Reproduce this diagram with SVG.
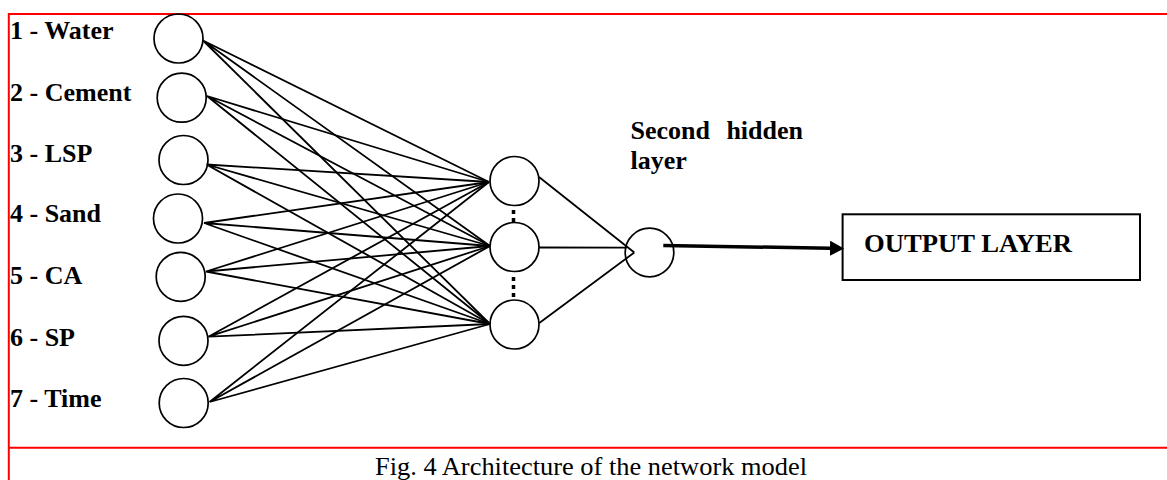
<svg xmlns="http://www.w3.org/2000/svg" width="1167" height="480" viewBox="0 0 1167 480">
<style>
.frame{stroke:#ff0000;stroke-width:2;fill:none}
.node{fill:none;stroke:#000;stroke-width:1.7}
.edge{stroke:#000;stroke-width:1.8;fill:none}
.lbl{font-family:"Liberation Serif","Times New Roman",serif;font-weight:bold;font-size:26px;fill:#000}
.cap{font-family:"Liberation Serif","Times New Roman",serif;font-size:26px;fill:#000}
.dots{stroke:#000;stroke-width:3.5;stroke-dasharray:4 4;fill:none}
</style>
<defs>
<marker id="arrow" markerUnits="userSpaceOnUse" markerWidth="16" markerHeight="16" refX="0" refY="7.5" orient="auto">
<path d="M0,0 L14,7.5 L0,15 z" fill="#000"/>
</marker>
</defs>
<rect width="1167" height="480" fill="#fff"/>
<g id="frame">
<line class="frame" x1="8.8" y1="13" x2="8.8" y2="480"/>
<line class="frame" x1="8" y1="14" x2="1167" y2="14"/>
<line class="frame" x1="8" y1="447.7" x2="1167" y2="447.7"/>
</g>
<g id="connectors">
<path class="edge" d="M203,40.5 L489,182 M203,40.5 L490,246 M203,40.5 L490,324"/>
<path class="edge" d="M207,96 L489,182 M207,96 L490,246 M207,96 L490,324"/>
<path class="edge" d="M206.5,164.5 L489,182 M206.5,164.5 L490,246 M206.5,164.5 L490,324"/>
<path class="edge" d="M204,223 L489,182 M204,223 L490,246 M204,223 L490,324"/>
<path class="edge" d="M206,271.5 L489,182 M206,271.5 L490,246 M206,271.5 L490,324"/>
<path class="edge" d="M208.3,336.7 L489,182 M208.3,336.7 L490,246 M208.3,336.7 L490,324"/>
<path class="edge" d="M209.5,402 L489,182 M209.5,402 L490,246 M209.5,402 L490,324"/>
<path class="edge" d="M539,177 L634.3,252.5 M539,247.5 L626.7,247.7 M539.3,323 L634.3,252.5"/>
<path d="M663.3,245.5 L830,248.2" stroke="#000" stroke-width="3.5" fill="none" marker-end="url(#arrow)"/>
<line class="dots" x1="513.5" y1="210" x2="513.5" y2="222"/>
<line class="dots" x1="513.5" y1="277" x2="513.5" y2="298"/>
</g>
<g id="in1"><circle class="node" cx="178.5" cy="38.5" r="24.5"/><text class="lbl" x="10" y="39">1 - Water</text></g>
<g id="in2"><circle class="node" cx="181.7" cy="97.7" r="24.5"/><text class="lbl" x="10" y="100.7">2 - Cement</text></g>
<g id="in3"><circle class="node" cx="183.5" cy="160" r="24.5"/><text class="lbl" x="10" y="161.7">3 - LSP</text></g>
<g id="in4"><circle class="node" cx="178" cy="218.5" r="24.5"/><text class="lbl" x="10" y="222.3">4 - Sand</text></g>
<g id="in5"><circle class="node" cx="180.7" cy="276.8" r="24.5"/><text class="lbl" x="10" y="284.3">5 - CA</text></g>
<g id="in6"><circle class="node" cx="183.5" cy="340.8" r="24.5"/><text class="lbl" x="10" y="346">6 - SP</text></g>
<g id="in7"><circle class="node" cx="183.7" cy="403" r="24.5"/><text class="lbl" x="10" y="406.7">7 - Time</text></g>
<g id="h1"><circle class="node" cx="514.5" cy="181" r="24.5"/></g>
<g id="h2"><circle class="node" cx="514.5" cy="247" r="24.5"/></g>
<g id="h3"><circle class="node" cx="514.5" cy="324.5" r="24.5"/></g>
<g id="out"><circle class="node" cx="649.5" cy="252.5" r="24.3"/></g>
<g id="hidden-label">
<text class="lbl" x="630.5" y="139.3">Second</text>
<text class="lbl" x="726.4" y="139.3">hidden</text>
<text class="lbl" x="630.5" y="169.3">layer</text>
</g>
<g id="output-layer">
<rect x="842.6" y="214.3" width="297.4" height="65.7" fill="none" stroke="#000" stroke-width="2"/>
<text class="lbl" x="864" y="251.7" textLength="208" lengthAdjust="spacingAndGlyphs">OUTPUT LAYER</text>
</g>
<text class="cap" x="375" y="475" textLength="432" lengthAdjust="spacingAndGlyphs">Fig. 4 Architecture of the network model</text>
</svg>
